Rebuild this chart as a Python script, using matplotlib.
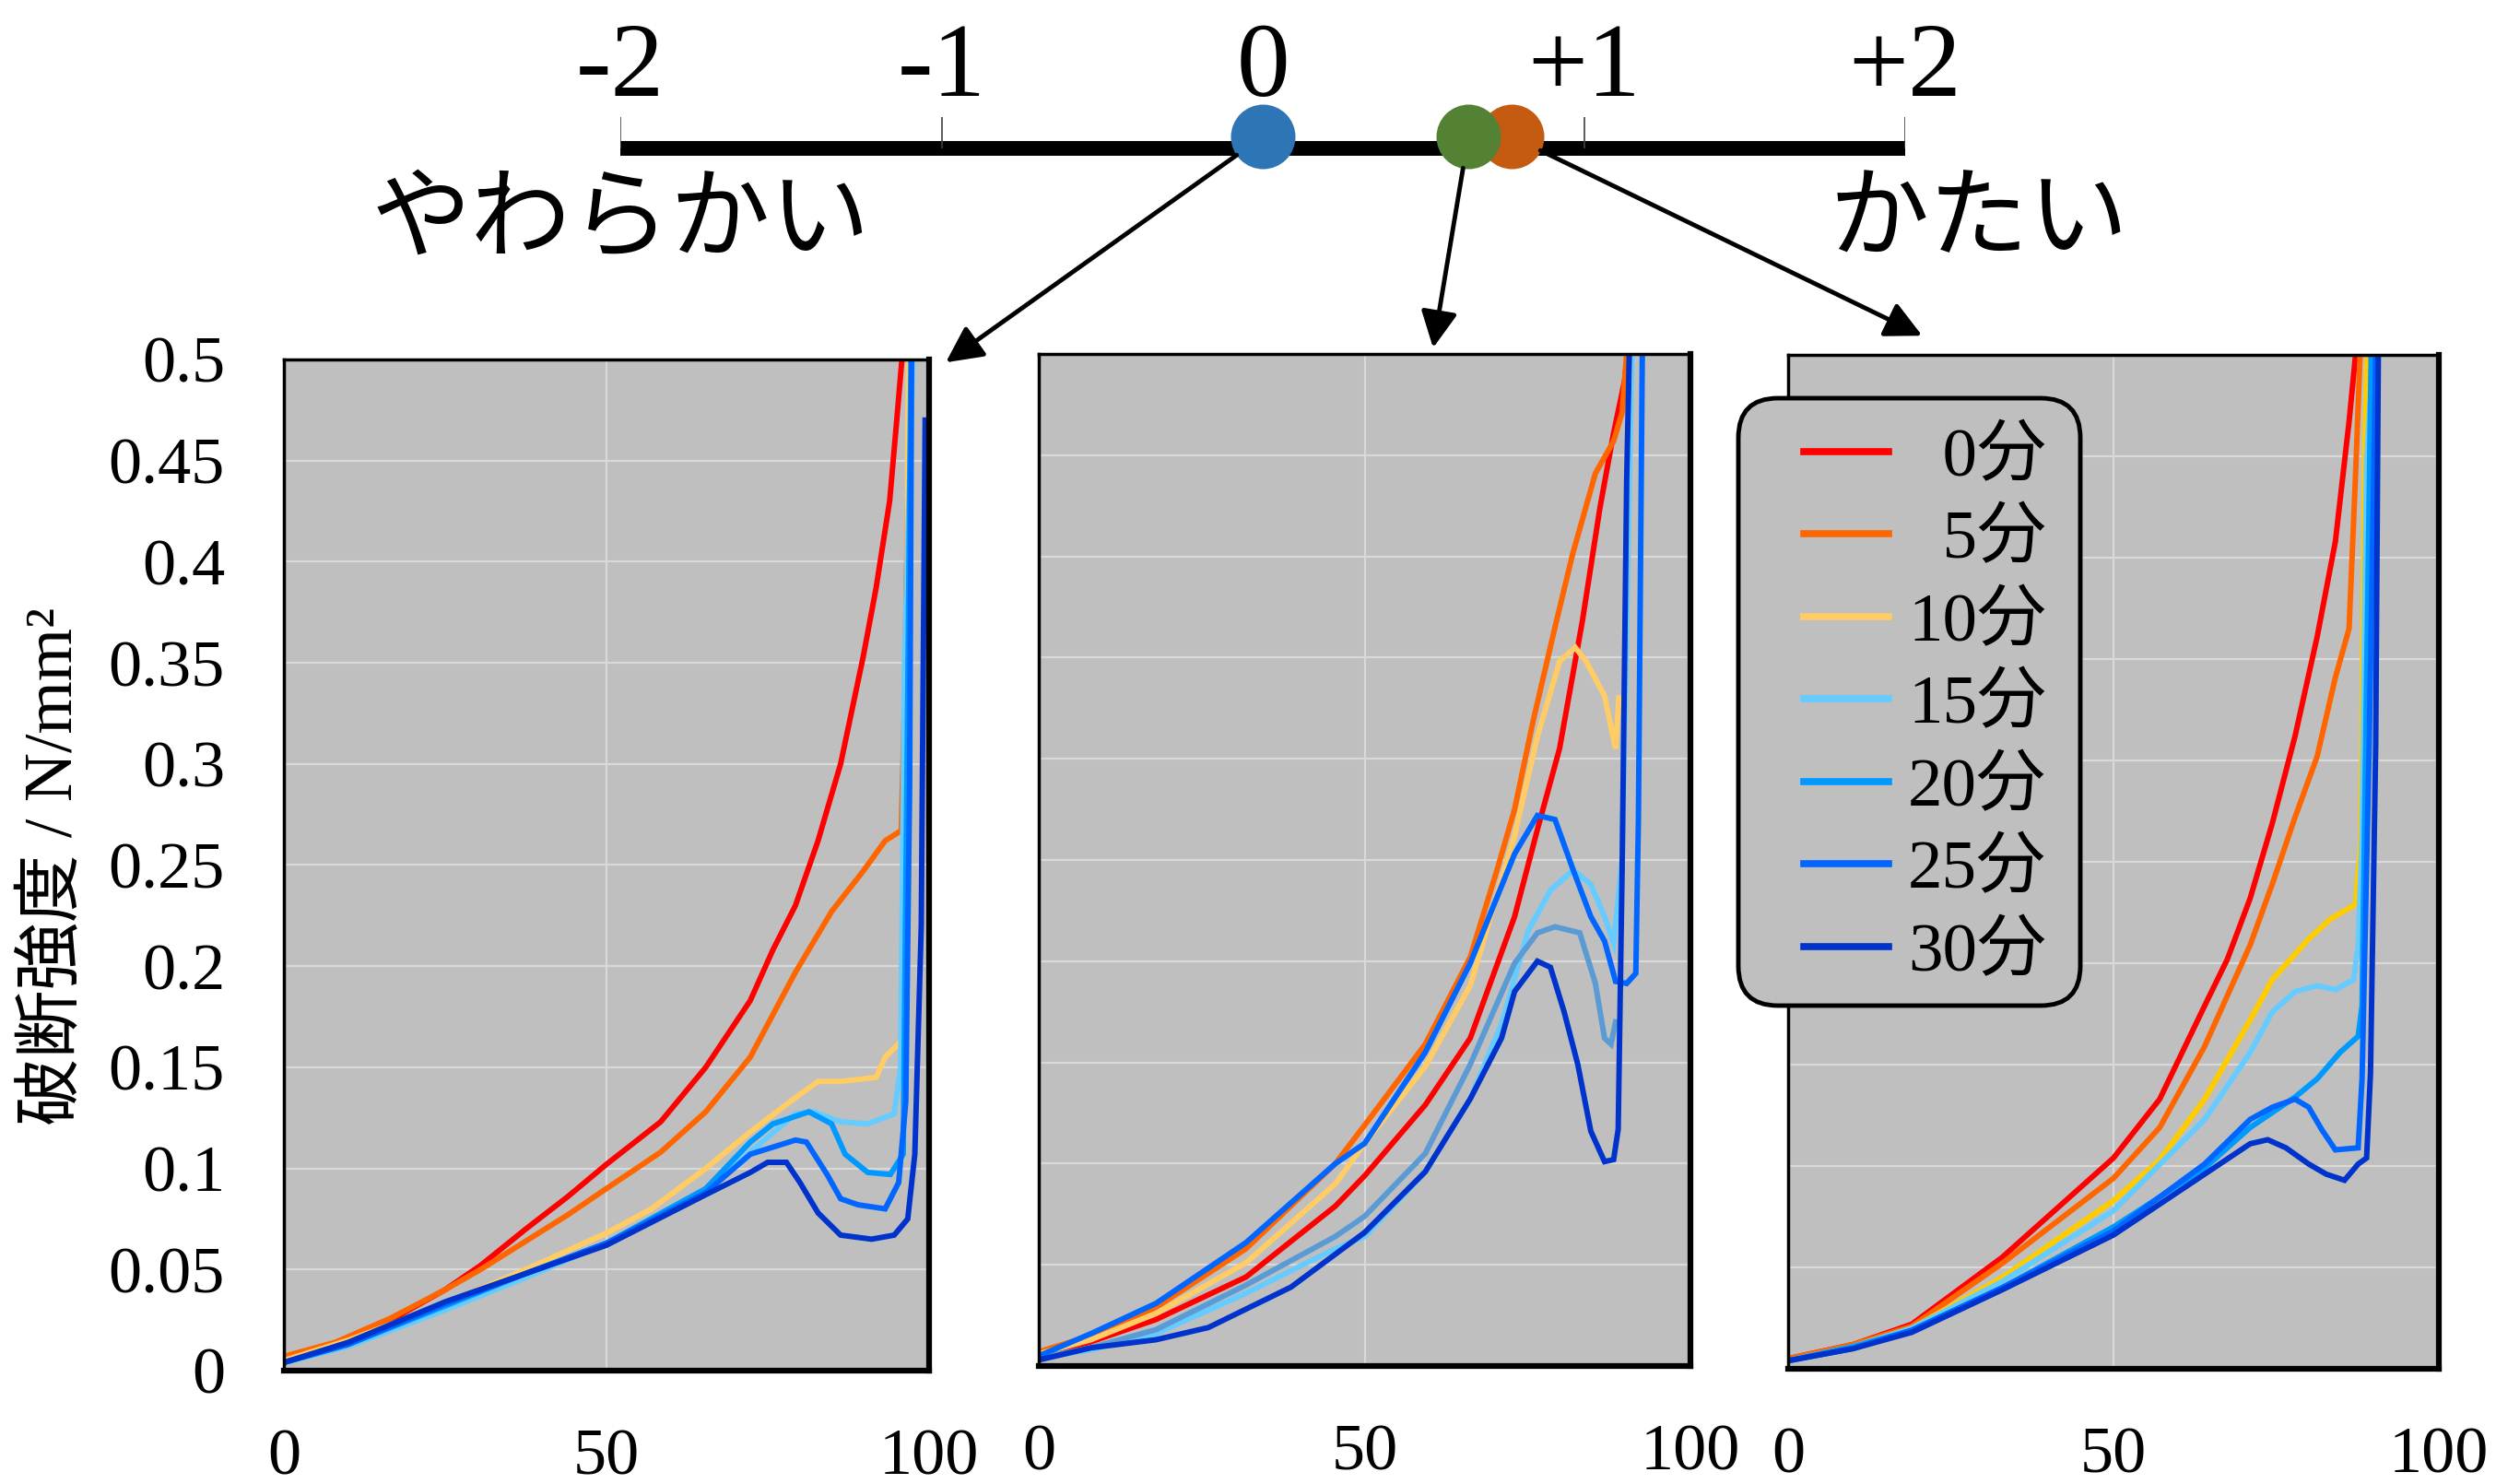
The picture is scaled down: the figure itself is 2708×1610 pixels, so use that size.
import numpy as np
import matplotlib
matplotlib.use("Agg")
import matplotlib.pyplot as plt
from matplotlib.lines import Line2D
from matplotlib.patches import ConnectionPatch, FancyBboxPatch
from matplotlib.transforms import IdentityTransform

plt.rcParams['font.family'] = ['Liberation Serif', 'Noto Sans CJK JP', 'DejaVu Sans']

# series labels / colours
labels = ['\u20070分', '\u20075分', '10分', '15分', '20分', '25分', '30分']
colors = ['#FF0000', '#FF6600', '#FFCC66', '#66CCFF', '#0099FF', '#0066FF', '#0033CC']

# top scale
scale_ticks = [-2, -1, 0, 1, 2]
scale_tick_labels = ['-2', '-1', '0', '+1', '+2']
score_soft = 0.0      # blue  -> left panel
score_mid = 0.64      # green -> middle panel
score_hard = 0.775    # orange -> right panel

x_ticks = [0, 50, 100]
y_ticks = [0, 0.05, 0.1, 0.15, 0.2, 0.25, 0.3, 0.35, 0.4, 0.45, 0.5]
y_tick_labels = ['0', '0.05', '0.1', '0.15', '0.2', '0.25', '0.3', '0.35', '0.4', '0.45', '0.5']

# ---- left panel (x, y) ----
p1_0 = [(0, 0.006), (8, 0.013), (16.6, 0.025), (25, 0.04), (30.5, 0.052), (37.5, 0.07), (44, 0.086),
        (50, 0.102), (58.4, 0.123), (65.4, 0.15), (72.3, 0.183), (75.8, 0.208), (79.3, 0.23),
        (82.8, 0.262), (86.3, 0.30), (89.8, 0.353), (91.8, 0.387), (93.9, 0.43), (95, 0.47), (95.8, 0.5)]
p1_5 = [(0, 0.007), (8, 0.014), (16.6, 0.026), (25, 0.04), (30.5, 0.05), (37.5, 0.064), (44, 0.077),
        (50, 0.09), (58.4, 0.108), (65.4, 0.128), (72.3, 0.155), (79.3, 0.197), (84.9, 0.227),
        (89.8, 0.247), (93.2, 0.262), (95.7, 0.267), (96.2, 0.33), (96.8, 0.45), (97.2, 0.5)]
p1_10 = [(0, 0.005), (10, 0.015), (25, 0.033), (37.5, 0.05), (50, 0.068), (57, 0.08), (65.4, 0.1),
         (72.3, 0.118), (79.3, 0.135), (82.8, 0.143), (86.3, 0.143), (91.8, 0.145), (93.2, 0.155),
         (95.7, 0.163), (96.2, 0.175), (96.8, 0.5)]
p1_15 = [(0, 0.004), (10, 0.012), (25, 0.03), (37.5, 0.046), (50, 0.063), (65.4, 0.088), (72.3, 0.108),
         (79.3, 0.127), (82.1, 0.128), (86.3, 0.123), (90.5, 0.122), (94.6, 0.127), (95.6, 0.15),
         (96.2, 0.35), (97.5, 0.5)]
p1_20 = [(0, 0.004), (10, 0.013), (25, 0.032), (37.5, 0.048), (50, 0.063), (65.4, 0.09), (72.3, 0.113),
         (75.8, 0.122), (81.4, 0.128), (84.9, 0.122), (87, 0.107), (90.5, 0.098), (94, 0.097),
         (96, 0.107), (96.6, 0.3), (97.2, 0.5)]
p1_25 = [(0, 0.004), (10, 0.013), (25, 0.033), (37.5, 0.048), (50, 0.063), (65.4, 0.088), (72.3, 0.107),
         (79.3, 0.114), (81, 0.113), (84.2, 0.097), (86.3, 0.085), (89, 0.082), (93.2, 0.08),
         (95.3, 0.093), (96.4, 0.133), (97, 0.29), (97.3, 0.5)]
p1_30 = [(0, 0.004), (10, 0.014), (25, 0.034), (37.5, 0.048), (50, 0.062), (65.4, 0.087), (72.3, 0.098),
         (75, 0.103), (77.9, 0.103), (80, 0.093), (82.8, 0.078), (86.3, 0.067), (91.1, 0.065),
         (94.6, 0.067), (96.7, 0.075), (97.8, 0.107), (98.8, 0.22), (99.4, 0.47)]

# ---- middle panel ----
p2_0 = [(0, 0.005), (8, 0.012), (18, 0.023), (31.8, 0.044), (45.5, 0.079), (50, 0.094), (59.3, 0.129),
        (66.2, 0.162), (73, 0.222), (76.5, 0.265), (79.9, 0.305), (83.4, 0.368), (86.1, 0.424),
        (88.2, 0.461), (89.9, 0.487), (90.3, 0.5)]
p2_5 = [(0, 0.007), (8, 0.015), (18, 0.029), (31.8, 0.058), (45.5, 0.1), (50, 0.119), (59.3, 0.159),
        (66.2, 0.202), (70.3, 0.245), (73, 0.275), (75.8, 0.318), (79.2, 0.365), (81.9, 0.401),
        (85.4, 0.441), (88.2, 0.457), (89.5, 0.471), (90.2, 0.5)]
p2_10 = [(0, 0.006), (8, 0.013), (18, 0.026), (31.8, 0.051), (45.5, 0.09), (50, 0.11), (59.3, 0.148),
         (66.2, 0.188), (73, 0.262), (76.5, 0.311), (79.9, 0.348), (82.3, 0.355), (84, 0.348),
         (86.8, 0.331), (88.5, 0.305), (89, 0.33)]
p2_15 = [(0, 0.004), (8, 0.008), (18, 0.016), (31.8, 0.036), (45.5, 0.058), (50, 0.064), (59.3, 0.096),
         (66.2, 0.132), (71, 0.169), (75.1, 0.215), (78.5, 0.235), (82, 0.245), (84.7, 0.238),
         (86.8, 0.222), (88.2, 0.209), (89.5, 0.25), (91, 0.5)]
p2_20 = [(0, 0.004), (8, 0.009), (18, 0.018), (31.8, 0.04), (45.5, 0.064), (50, 0.074), (59.3, 0.105),
         (66.2, 0.149), (73, 0.199), (76.5, 0.214), (79.2, 0.217), (83, 0.214), (85.4, 0.189),
         (86.8, 0.162), (87.8, 0.159), (88.5, 0.17)]
p2_25 = [(0, 0.005), (8, 0.016), (18, 0.031), (31.8, 0.061), (45.5, 0.1), (50, 0.11), (59.3, 0.155),
         (66.2, 0.199), (73, 0.253), (76.5, 0.272), (79.2, 0.27), (82, 0.245), (84.7, 0.222),
         (86.8, 0.21), (88.5, 0.19), (90.2, 0.189), (91.6, 0.194), (92, 0.27), (92.6, 0.5)]
p2_30 = [(0, 0.003), (8, 0.009), (18, 0.013), (26, 0.019), (38.7, 0.039), (50, 0.066), (59.3, 0.096),
         (66.2, 0.132), (71, 0.162), (73, 0.185), (76.5, 0.2), (78.5, 0.197), (80.6, 0.175),
         (82.7, 0.149), (84.7, 0.116), (86.8, 0.101), (88.2, 0.102), (88.9, 0.117), (89.5, 0.245),
         (90.2, 0.438), (90.6, 0.5)]

# ---- right panel ----
p3_0 = [(0, 0.005), (10, 0.012), (19, 0.022), (32.9, 0.055), (50, 0.104), (57.1, 0.133), (64, 0.179),
        (67.5, 0.202), (71, 0.232), (74.4, 0.269), (77.9, 0.312), (81.3, 0.361), (84.1, 0.408),
        (86.2, 0.467), (87.2, 0.5)]
p3_5 = [(0, 0.005), (10, 0.012), (19, 0.021), (32.9, 0.052), (50, 0.094), (57.1, 0.119), (64, 0.159),
        (71, 0.209), (74.4, 0.239), (77.9, 0.272), (81.3, 0.302), (84.1, 0.341), (86.2, 0.365),
        (87.2, 0.441), (87.9, 0.5)]
p3_10 = [(0, 0.004), (10, 0.011), (19, 0.02), (32.9, 0.045), (50, 0.083), (57.1, 0.103), (64, 0.133),
         (71, 0.172), (74.4, 0.192), (80, 0.212), (83.4, 0.222), (87.2, 0.229), (88, 0.26),
         (88.6, 0.45), (89, 0.5)]
p3_15 = [(0, 0.004), (10, 0.011), (19, 0.02), (32.9, 0.043), (50, 0.078), (64, 0.123), (71, 0.156),
         (74.4, 0.176), (77.9, 0.186), (81.3, 0.189), (84.1, 0.187), (86.9, 0.192), (87.6, 0.209),
         (88.2, 0.262), (88.9, 0.448), (89.9, 0.5)]
p3_20 = [(0, 0.004), (10, 0.011), (19, 0.019), (32.9, 0.04), (50, 0.07), (64, 0.099), (71, 0.119),
         (77.9, 0.134), (81.3, 0.143), (84.8, 0.156), (87.6, 0.164), (88.2, 0.179), (89.6, 0.5)]
p3_25 = [(0, 0.004), (10, 0.01), (19, 0.019), (32.9, 0.04), (50, 0.068), (64, 0.101), (71, 0.123),
         (74.4, 0.129), (77.9, 0.133), (80, 0.129), (82, 0.118), (84.1, 0.108), (87.6, 0.109),
         (88.2, 0.143), (89.3, 0.308), (90.3, 0.5)]
p3_30 = [(0, 0.004), (10, 0.01), (19, 0.018), (32.9, 0.039), (50, 0.066), (64, 0.096), (71, 0.111),
         (73.7, 0.113), (76.5, 0.109), (80, 0.101), (82.7, 0.096), (85.5, 0.093), (87.6, 0.101),
         (88.9, 0.104), (89.5, 0.146), (90.3, 0.308), (90.7, 0.5)]

panel1 = [p1_0, p1_5, p1_10, p1_15, p1_20, p1_25, p1_30]
panel2 = [p2_0, p2_5, p2_10, p2_15, p2_20, p2_25, p2_30]
panel3 = [p3_0, p3_5, p3_10, p3_15, p3_20, p3_25, p3_30]

# a couple of curves are drawn in a different shade than the legend
colors2 = colors[:4] + ['#5B9BD5'] + colors[5:]
colors3 = colors[:2] + ['#FFCC00'] + colors[3:]

TICK_FS = 52
LW = 4.3


def make_panel(rect, data, cols, show_y):
    ax = fig.add_axes(rect)
    ax.set_facecolor('#BFBFBF')
    for pts, c in zip(data, cols):
        arr = np.array(pts)
        ax.plot(arr[:, 0], arr[:, 1], color=c, lw=LW, solid_joinstyle='miter')
    ax.set_xlim(0, 100)
    ax.set_ylim(0, 0.5)
    ax.set_xticks(x_ticks)
    ax.set_xticklabels([str(t) for t in x_ticks])
    ax.set_yticks(y_ticks)
    if show_y:
        ax.set_yticklabels(y_tick_labels)
    else:
        ax.tick_params(labelleft=False)
    ax.tick_params(length=0, labelsize=TICK_FS)
    ax.tick_params(axis='x', pad=45)
    ax.tick_params(axis='y', pad=46)
    ax.grid(True, color='#D9D9D9', lw=1.6)
    ax.set_axisbelow(True)
    for side in ['left', 'top']:
        ax.spines[side].set_linewidth(2.5)
    for side in ['right', 'bottom']:
        ax.spines[side].set_linewidth(4.5)
    return ax


fig = plt.figure(figsize=(27.08, 16.10), dpi=100)

ax1 = make_panel([0.1137, 0.0764, 0.2585, 0.6814], panel1, colors, True)
ax2 = make_panel([0.4162, 0.0795, 0.2611, 0.6820], panel2, colors2, False)
ax3 = make_panel([0.7164, 0.0776, 0.2607, 0.6832], panel3, colors3, False)

fig.text(0.022, 0.416, '破断強度 / N/mm²', rotation=90, ha='center', va='center', fontsize=53)

# legend: rounded grey box drawn separately, entries on top of it
box = FancyBboxPatch((1886, 1610 - 1091), 371, 659, boxstyle='round,pad=0,rounding_size=43',
                     transform=IdentityTransform(), facecolor='#BFBFBF', edgecolor='black',
                     lw=3.5, clip_on=False, zorder=4)
ax3.add_artist(box)
handles = [Line2D([], [], color=c, lw=5.5) for c in colors]
leg = ax3.legend(handles, labels, loc='upper left', bbox_to_anchor=(0.024, 0.9287),
                 borderaxespad=0, borderpad=0, fontsize=54, handlelength=1.23,
                 handletextpad=0.28, labelspacing=0.28, frameon=False)
leg.set_zorder(5)

# top scale
sc = fig.add_axes([673 / 2708, 0.75, (2067 - 673) / 2708, 0.25])
sc.set_xlim(-2, 2)
sc.set_ylim(0, 1)
sc.axis('off')
sc.plot([scale_ticks[0], scale_ticks[-1]], [0.6, 0.6], color='black', lw=11.5, solid_capstyle='butt')
sc.vlines(scale_ticks, 0.6, 0.684, color='#404040', lw=1.2)
for t, lab in zip(scale_ticks, scale_tick_labels):
    sc.text(t, 0.811, lab, ha='center', va='center', fontsize=83)
sc.text(-2, 0.404, 'やわらかい', ha='center', va='center', fontsize=78, family='Noto Sans CJK JP')
sc.text(2.23, 0.404, 'かたい', ha='center', va='center', fontsize=78, family='Noto Sans CJK JP')

circle_y = 0.632
sc.scatter([score_soft], [circle_y], s=2540, color='#2E75B6', lw=0, zorder=3, clip_on=False)
sc.scatter([score_hard], [circle_y], s=2540, color='#C55A11', lw=0, zorder=3, clip_on=False)
sc.scatter([score_mid], [circle_y], s=2540, color='#548235', lw=0, zorder=4, clip_on=False)

for score, ax, tip in [(score_soft, ax1, (1.026, 0.997)),
                       (score_mid, ax2, (0.605, 1.006)),
                       (score_hard, ax3, (0.206, 1.019))]:
    con = ConnectionPatch(xyA=(score, circle_y), coordsA=sc.transData,
                          xyB=tip, coordsB=ax.transAxes,
                          arrowstyle='-|>', color='black', lw=3.5,
                          shrinkA=25, shrinkB=0, mutation_scale=60)
    fig.add_artist(con)

fig.savefig('out.png', dpi=100)
